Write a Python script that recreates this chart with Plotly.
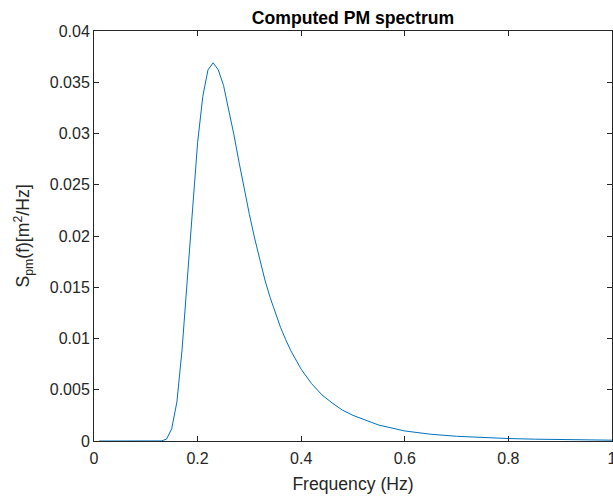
import plotly.graph_objects as go

freq = [0.01, 0.03, 0.05, 0.07, 0.09, 0.11, 0.12, 0.13, 0.14, 0.15, 0.16, 0.17, 0.18,
        0.19, 0.20, 0.21, 0.22, 0.23, 0.24, 0.25, 0.26, 0.27, 0.28, 0.29, 0.30,
        0.31, 0.32, 0.33, 0.34, 0.35, 0.36, 0.37, 0.38, 0.39, 0.40, 0.42, 0.44,
        0.46, 0.48, 0.50, 0.55, 0.60, 0.65, 0.70, 0.75, 0.80, 0.85, 0.90, 0.95, 1.00]
s_pm = [0.0, 0.0, 0.0, 0.0, 0.0, 0.0, 0.0, 0.00001, 0.00018, 0.0012, 0.0038, 0.0089,
        0.0157, 0.0229, 0.0291, 0.0336, 0.0362, 0.0369, 0.0362, 0.0347, 0.0324,
        0.0299, 0.0272, 0.0246, 0.0221, 0.0198, 0.0177, 0.0157, 0.0140, 0.0125,
        0.0111, 0.0099, 0.0088, 0.0079, 0.0070, 0.0056, 0.0045, 0.0037, 0.0030,
        0.0025, 0.00155, 0.00098, 0.00066, 0.00046, 0.00033, 0.00024, 0.00018,
        0.00013, 0.0001, 0.00008]

x_ticks = [0, 0.2, 0.4, 0.6, 0.8, 1.0]
x_labels = ["0", "0.2", "0.4", "0.6", "0.8", "1"]
y_ticks = [0, 0.005, 0.01, 0.015, 0.02, 0.025, 0.03, 0.035, 0.04]
y_labels = ["0", "0.005", "0.01", "0.015", "0.02", "0.025", "0.03", "0.035", "0.04"]

FONT = "Liberation Sans, Arial, Helvetica, sans-serif"
AX = "#262626"

fig = go.Figure()
fig.add_trace(go.Scatter(x=freq, y=s_pm, mode="lines",
                         line=dict(color="#0072BD", width=1), showlegend=False))

axis_common = dict(showline=True, linecolor=AX, linewidth=1, mirror="allticks",
                   ticks="inside", ticklen=5, tickcolor=AX, tickwidth=1,
                   showgrid=False, zeroline=False, ticklabeloverflow="allow",
                   automargin=False,
                   tickfont=dict(family=FONT, size=16, color=AX))

fig.update_xaxes(range=[0, 1], tickvals=x_ticks, ticktext=x_labels, ticklabelstandoff=3,
                 title=dict(text="Frequency (Hz)", font=dict(family=FONT, size=17.6, color=AX),
                            standoff=11),
                 **axis_common)
fig.update_yaxes(range=[0, 0.04], tickvals=y_ticks, ticktext=y_labels,
                 title=dict(text="S<sub>pm</sub>(f)[m<sup>2</sup>/Hz]",
                            font=dict(family=FONT, size=17.6, color=AX), standoff=15),
                 **axis_common)

fig.update_layout(
    width=613, height=498,
    margin=dict(l=94, r=1, t=31, b=57),
    paper_bgcolor="white", plot_bgcolor="white",
    title=dict(text="<b>Computed PM spectrum</b>", x=(94 + 612) / 2 / 613, xanchor="center",
               yref="container", y=1 - 18 / 498, yanchor="middle",
               font=dict(family=FONT, size=17.6, color="black")),
)

fig.write_html("out.html")
